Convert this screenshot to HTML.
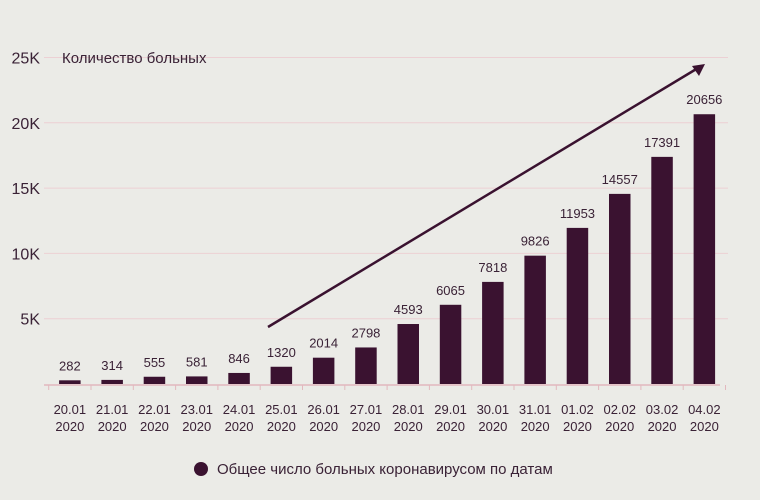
<!DOCTYPE html>
<html><head><meta charset="utf-8"><style>
body{margin:0;background:#ebebe7;}
svg{display:block;font-family:"Liberation Sans",sans-serif;}
</style></head><body>
<svg width="760" height="500" viewBox="0 0 760 500">
<rect width="760" height="500" fill="#ebebe7"/>
<g id="grid"></g>
<g id="bars"></g>
<g id="labels"></g>
<text x="62" y="63" font-size="15" fill="#3a2236">Количество больных</text>
<line x1="268" y1="327" x2="698" y2="68" stroke="#3a1230" stroke-width="2.5"/>
<polygon points="705,64 692,66 699,76" fill="#3a1230"/>
<circle cx="201" cy="469" r="7" fill="#3a1230"/>
<text x="217" y="474" font-size="15" fill="#3a2236">Общее число больных коронавирусом по датам</text>
<script>
const categories=["20.01","21.01","22.01","23.01","24.01","25.01","26.01","27.01","28.01","29.01","30.01","31.01","01.02","02.02","03.02","04.02"];
const years=["2020","2020","2020","2020","2020","2020","2020","2020","2020","2020","2020","2020","2020","2020","2020","2020"];
const values=[282,314,555,581,846,1320,2014,2798,4593,6065,7818,9826,11953,14557,17391,20656];
const ticks=[5000,10000,15000,20000,25000];
const tickLabels=["5K","10K","15K","20K","25K"];
const NS="http://www.w3.org/2000/svg";
const y0=384,pxPerUnit=65.3/5000,x0=48.7,band=42.3,bw=21.5;
const y=v=>y0-v*pxPerUnit;
const x=i=>x0+i*band;
function mk(tag,attrs,parent,text){const e=document.createElementNS(NS,tag);for(const k in attrs)e.setAttribute(k,attrs[k]);if(text!==undefined)e.textContent=text;document.getElementById(parent).appendChild(e);return e;}
ticks.forEach((t,i)=>{
 const l=mk("line",{x1:44,x2:728,y1:y(t),y2:y(t),stroke:"#ecd0d4","stroke-width":1},"grid");
 
 
 const tx=mk("text",{x:40,y:y(t)+6,"text-anchor":"end","font-size":16,fill:"#3a2236"},"grid",tickLabels[i]);
 
 
});
const ax=mk("line",{x1:44,x2:720,y1:y0+1,y2:y0+1,stroke:"#e2b8be","stroke-width":1.5},"grid");


for(let i=0;i<=categories.length;i++){
 const tk=mk("line",{x1:x(i),x2:x(i),y1:y0+1,y2:y0+6,stroke:"#e2b8be","stroke-width":1},"grid");
 
 
}
values.forEach((v,i)=>{
 const cx=x(i)+band/2;
 const r=mk("rect",{x:cx-bw/2,y:y(v),width:bw,height:y0-y(v),fill:"#3a1230"},"bars");
 
 
 const t=mk("text",{x:cx,y:y(v)-10,"text-anchor":"middle","font-size":13,fill:"#3a2236"},"labels",String(v));
 
 
 const c=mk("text",{x:cx,y:414,"text-anchor":"middle","font-size":13,fill:"#3a2236"},"labels",categories[i]);
 
 
 const yr=mk("text",{x:cx,y:431,"text-anchor":"middle","font-size":13,fill:"#3a2236"},"labels",years[i]);
 
 
});
</script>
</svg>
</body></html>
